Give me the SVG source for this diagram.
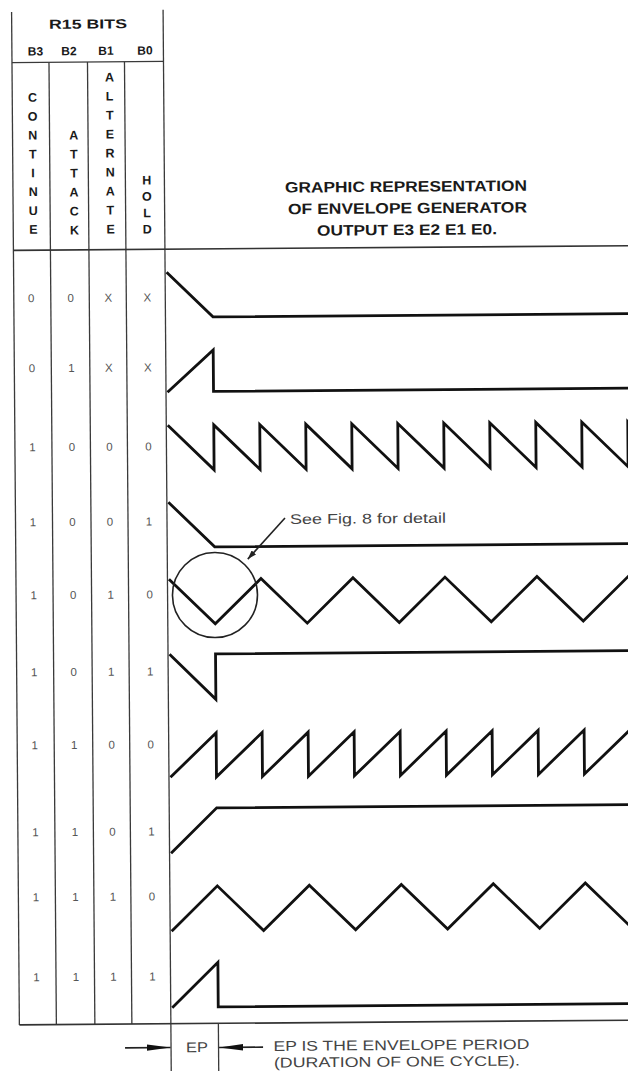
<svg xmlns="http://www.w3.org/2000/svg" width="628" height="1071" viewBox="0 0 628 1071">
<style>
.tl{stroke:#3a3a3a;stroke-width:1.3;fill:none}
.hl{stroke:#333;stroke-width:1.6;fill:none}
.wave{stroke:#111;stroke-width:2.8;fill:none;stroke-linejoin:miter;stroke-miterlimit:10}
.thin{stroke:#222;stroke-width:1.6;fill:none}
text{font-family:"Liberation Sans",Arial,sans-serif}
.hdr{font-weight:bold;fill:#1a1a1a;text-anchor:middle}
.vl{font-weight:bold;font-size:12.5px;fill:#1a1a1a;text-anchor:middle}
.lbl{font-size:11.5px;fill:#555;text-anchor:middle}
.note{font-size:14px;fill:#444}
</style>
<defs>
<marker id="ah" viewBox="0 0 24 8" refX="24" refY="4" markerWidth="24" markerHeight="8" markerUnits="userSpaceOnUse" orient="auto">
<path d="M0,0.8 L24,4 L0,7.2 Z" fill="#111"/>
</marker>
<marker id="sh" viewBox="0 0 9 6" refX="9" refY="3" markerWidth="9" markerHeight="6" markerUnits="userSpaceOnUse" orient="auto">
<path d="M0,0 L9,3 L0,6 Z" fill="#222"/>
</marker>
</defs>
<g transform="rotate(-0.44)">
<g id="table">
<line class="tl" x1="11.5" y1="12" x2="11.5" y2="1025"/>
<line class="tl" x1="48.5" y1="62.7" x2="48.5" y2="1025"/>
<line class="tl" x1="87" y1="62.7" x2="87" y2="1025"/>
<line class="tl" x1="124" y1="62.7" x2="124" y2="1025"/>
<line class="tl" x1="163" y1="11" x2="163" y2="1085"/>
<line class="tl" x1="11.5" y1="62.7" x2="163" y2="62.7"/>
<line class="hl" x1="11.5" y1="250.5" x2="645" y2="250.5"/>
<line class="hl" x1="11.5" y1="1025" x2="645" y2="1025"/>
<line class="tl" x1="210.5" y1="1025" x2="210.5" y2="1085"/>
</g>
<g id="header">
<text class="hdr" x="87.8" y="29.2" font-size="13" textLength="78" lengthAdjust="spacingAndGlyphs">R15 BITS</text>
<text class="hdr" x="35.1" y="55.7" font-size="12">B3</text>
<text class="hdr" x="68.6" y="55.7" font-size="12">B2</text>
<text class="hdr" x="105.6" y="55.7" font-size="12">B1</text>
<text class="hdr" x="144.6" y="55.7" font-size="12">B0</text>
<text class="vl" x="31.7 31.7 31.7 31.7 31.7 31.7 31.7 31.7" y="102 120.9 139.7 158.6 177.4 196.3 215.1 234">CONTINUE</text>
<text class="vl" x="72.6 72.6 72.6 72.6 72.6 72.6" y="140.1 159.1 178.1 197.1 216.1 235.1">ATTACK</text>
<text class="vl" x="108.8 108.8 108.8 108.8 108.8 108.8 108.8 108.8 108.8" y="82.3 101.3 120.3 139.3 158.3 177.3 196.3 215.3 234.3">ALTERNATE</text>
<text class="vl" x="145.4 145.4 145.4 145.4" y="185.6 201.9 218.3 234.6">HOLD</text>
<text class="hdr" x="404.5" y="194.8" font-size="15" textLength="242" lengthAdjust="spacingAndGlyphs">GRAPHIC REPRESENTATION</text>
<text class="hdr" x="405.9" y="216.4" font-size="15" textLength="239" lengthAdjust="spacingAndGlyphs">OF ENVELOPE GENERATOR</text>
<text class="hdr" x="405.2" y="238.1" font-size="15" textLength="180" lengthAdjust="spacingAndGlyphs">OUTPUT E3 E2 E1 E0.</text>
</g>
<g id="row-00xx">
<text class="lbl" y="302.5"><tspan x="29">0</tspan><tspan x="68.5">0</tspan><tspan x="106">X</tspan><tspan x="145">X</tspan></text>
<path class="wave" d="M164.5,273.5 L210.5,318.5 H645"/>
</g>
<g id="row-01xx">
<text class="lbl" y="372.5"><tspan x="29">0</tspan><tspan x="68.5">1</tspan><tspan x="106">X</tspan><tspan x="145">X</tspan></text>
<path class="wave" d="M164.5,393.5 L210.5,351.5 V393 H645"/>
</g>
<g id="row-1000">
<text class="lbl" y="451.5"><tspan x="29">1</tspan><tspan x="68.5">0</tspan><tspan x="106">0</tspan><tspan x="145">0</tspan></text>
<path class="wave" d="M164.5,426.5 L210.5,471.5 V426.5 L256.5,471.5 V426.5 L302.5,471.5 V426.5 L348.5,471.5 V426.5 L394.5,471.5 V426.5 L440.5,471.5 V426.5 L486.5,471.5 V426.5 L532.5,471.5 V426.5 L578.5,471.5 V426.5 L624.5,471.5 V426.5 L670.5,471.5"/>
</g>
<g id="row-1001">
<text class="lbl" y="526.5"><tspan x="29">1</tspan><tspan x="68.5">0</tspan><tspan x="106">0</tspan><tspan x="145">1</tspan></text>
<path class="wave" d="M164.5,503.5 L210.5,548.5 H645"/>
</g>
<g id="row-1010">
<text class="lbl" y="599.5"><tspan x="29">1</tspan><tspan x="68.5">0</tspan><tspan x="106">1</tspan><tspan x="145">0</tspan></text>
<path class="wave" d="M164.5,580.5 L210.5,625.5 L256.5,580.5 L302.5,625.5 L348.5,580.5 L394.5,625.5 L440.5,580.5 L486.5,625.5 L532.5,580.5 L578.5,625.5 L624.5,580.5 L670.5,625.5"/>
</g>
<g id="detail-callout">
<circle class="thin" cx="210.4" cy="596.7" r="42.5"/>
<line class="thin" x1="281" y1="520.2" x2="243.5" y2="561" marker-end="url(#sh)"/>
<text x="286" y="526.2" font-size="14" fill="#444" textLength="156" lengthAdjust="spacingAndGlyphs">See Fig. 8 for detail</text>
</g>
<g id="row-1011">
<text class="lbl" y="676.5"><tspan x="29">1</tspan><tspan x="68.5">0</tspan><tspan x="106">1</tspan><tspan x="145">1</tspan></text>
<path class="wave" d="M164.5,655.5 L210.5,701 V655.5 H645"/>
</g>
<g id="row-1100">
<text class="lbl" y="749.5"><tspan x="29">1</tspan><tspan x="68.5">1</tspan><tspan x="106">0</tspan><tspan x="145">0</tspan></text>
<path class="wave" d="M164.5,778.5 L210.5,734.5 V778.5 L256.5,734.5 V778.5 L302.5,734.5 V778.5 L348.5,734.5 V778.5 L394.5,734.5 V778.5 L440.5,734.5 V778.5 L486.5,734.5 V778.5 L532.5,734.5 V778.5 L578.5,734.5 V778.5 L624.5,734.5 V778.5 L670.5,734.5"/>
</g>
<g id="row-1101">
<text class="lbl" y="836.5"><tspan x="29">1</tspan><tspan x="68.5">1</tspan><tspan x="106">0</tspan><tspan x="145">1</tspan></text>
<path class="wave" d="M164.5,854.5 L210.5,809.5 H645"/>
</g>
<g id="row-1110">
<text class="lbl" y="901.5"><tspan x="29">1</tspan><tspan x="68.5">1</tspan><tspan x="106">1</tspan><tspan x="145">0</tspan></text>
<path class="wave" d="M164.5,932.5 L210.5,887.5 L256.5,932.5 L302.5,887.5 L348.5,932.5 L394.5,887.5 L440.5,932.5 L486.5,887.5 L532.5,932.5 L578.5,887.5 L624.5,932.5 L670.5,887.5"/>
</g>
<g id="row-1111">
<text class="lbl" y="981.5"><tspan x="29">1</tspan><tspan x="68.5">1</tspan><tspan x="106">1</tspan><tspan x="145">1</tspan></text>
<path class="wave" d="M164.5,1009 L210.5,964 V1008.5 H645"/>
</g>
<g id="connectors">
<line class="thin" x1="117" y1="1048.8" x2="162.5" y2="1048.8" marker-end="url(#ah)"/>
<line class="thin" x1="255" y1="1049.1" x2="211" y2="1049.1" marker-end="url(#ah)"/>
</g>
<g id="ep-legend">
<text class="note" x="178" y="1053.6" textLength="22" lengthAdjust="spacingAndGlyphs">EP</text>
<text class="note" x="265.4" y="1053" textLength="256" lengthAdjust="spacingAndGlyphs">EP IS THE ENVELOPE PERIOD</text>
<text class="note" x="265.7" y="1069.5" font-size="12.5" textLength="246" lengthAdjust="spacingAndGlyphs">(DURATION OF ONE CYCLE).</text>
</g>
</g>
</svg>
